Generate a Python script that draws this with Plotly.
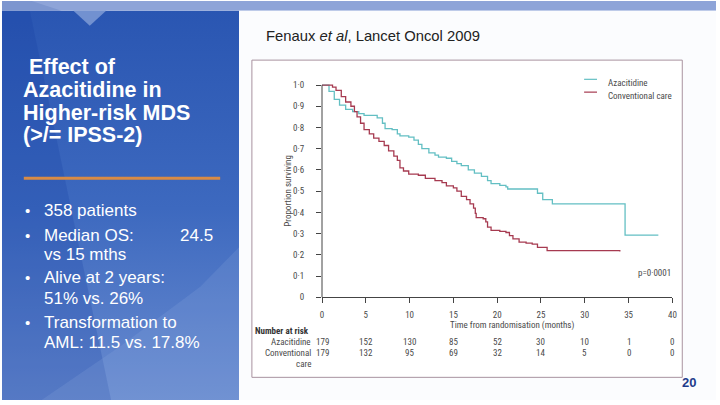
import plotly.graph_objects as go

W, H = 720, 405

# ---------------- data ----------------
aza_t = [0, 0.8, 1.4, 2.0, 2.7, 3.5, 4.2, 4.8, 6.3, 6.9, 7.2, 8.0, 8.6, 8.9, 9.9, 10.5, 11.0, 11.4,
         12.2, 12.9, 13.3, 14.2, 14.8, 15.4, 15.9, 16.7, 17.4, 18.2, 18.9, 19.3, 20.3, 21.0, 21.2,
         24.2, 24.6, 25.2, 26.3, 34.6, 38.4]
aza_s = [1.0, 0.97, 0.932, 0.905, 0.885, 0.875, 0.865, 0.857, 0.845, 0.82, 0.795, 0.79, 0.77, 0.76,
         0.755, 0.74, 0.72, 0.70, 0.68, 0.67, 0.66, 0.655, 0.64, 0.63, 0.62, 0.60, 0.585, 0.57, 0.55,
         0.535, 0.527, 0.52, 0.51, 0.51, 0.49, 0.46, 0.44, 0.293, 0.293]

conv_t = [0, 0.6, 1.2, 1.6, 2.2, 2.7, 3.3, 3.7, 4.0, 4.4, 4.8, 5.4, 5.9, 6.5, 7.1, 7.6, 8.2, 8.6, 8.9,
          9.3, 9.9, 11.0, 11.8, 12.9, 13.7, 14.2, 15.0, 15.4, 15.9, 16.5, 16.9, 17.3, 17.5, 17.6, 18.4,
          18.7, 18.9, 19.3, 20.3, 21.0, 21.4, 21.8, 22.5, 23.3, 24.0, 24.6, 25.7, 34.0]
conv_s = [1.0, 1.0, 0.99, 0.975, 0.945, 0.92, 0.90, 0.875, 0.85, 0.82, 0.79, 0.77, 0.75, 0.735, 0.715,
          0.69, 0.665, 0.645, 0.61, 0.595, 0.58, 0.575, 0.56, 0.55, 0.54, 0.525, 0.515, 0.50, 0.475,
          0.46, 0.44, 0.42, 0.395, 0.375, 0.37, 0.355, 0.33, 0.315, 0.31, 0.305, 0.29, 0.275, 0.26,
          0.255, 0.25, 0.235, 0.22, 0.215]

x_ticks = [0, 5, 10, 15, 20, 25, 30, 35, 40]
y_ticks = [0, 0.1, 0.2, 0.3, 0.4, 0.5, 0.6, 0.7, 0.8, 0.9, 1.0]
y_tick_labels = ["0", "0·1", "0·2", "0·3", "0·4", "0·5", "0·6", "0·7", "0·8", "0·9", "1·0"]
risk_aza = [179, 152, 130, 85, 52, 30, 10, 1, 0]
risk_conv = [179, 132, 95, 69, 32, 14, 5, 0, 0]

title_lines = [" Effect of", "Azacitidine in", "Higher-risk MDS", "(>/= IPSS-2)"]
bullet_lines = [("•", "358 patients"), ("•", "Median OS:"), ("", "vs 15 mths"),
                ("•", "Alive at 2 years:"), ("", "51% vs. 26%"),
                ("•", "Transformation to"), ("", "AML: 11.5 vs. 17.8%")]

# ---------------- styles ----------------
TEAL = "#63BFC3"
RED = "#A63A50"
CF = "Liberation Sans Narrow, Roboto Condensed, Roboto, sans-serif"
SF = "Liberation Sans, Arial, sans-serif"
TXT = "#4a4a4a"
FS = 9
DY = 3.5   # small-text vertical correction


def px(x):
    return x / W


def py(y):
    return 1 - y / H


fig = go.Figure()


def poly(xs, ys, color, line=None, grad=None):
    kw = dict(x=xs, y=ys, mode="lines", fill="toself", hoverinfo="skip", showlegend=False,
              xaxis="x", yaxis="y")
    if grad:
        kw["fillgradient"] = grad
    else:
        kw["fillcolor"] = color
    if line:
        kw["line"] = dict(color=line[0], width=line[1])
    else:
        kw["line"] = dict(width=0, color=color)
    fig.add_trace(go.Scatter(**kw))


# ---------------- slide background (subplot x/y in pixel units) ----------------
poly([0, 720, 720, 0], [0, 0, 405, 405], "#ffffff")
poly([0, 239, 239, 0], [10, 10, 405, 405], None,
     grad=dict(type="vertical", start=10, stop=405,
               colorscale=[[0, "#2A56B2"], [0.5, "#3D69BF"], [1, "#6A8CD0"]]))
# darker diagonal band top-left
poly([0, 28, 110, 0], [10, 10, 405, 405], "rgba(20,60,160,0.22)")
# lighter swoosh lower area
poly([239, 239, 150, 60, 40, 120, 200], [250, 405, 405, 405, 405, 350, 290], "rgba(150,180,230,0.18)")
# top strip
poly([0, 720, 720, 0], [0, 0, 10, 10], "#8EA4D8")
poly([0, 30, 60, 0], [0, 0, 10, 10], "#7D96CF")
# triangle notch
poly([72, 105, 88.5], [10, 10, 25], "#7291D0")
# white content panel
poly([239, 720, 720, 239], [10, 10, 405, 405], "#FBFCFE")
# chart frame
poly([252, 686, 686, 252, 252], [60, 60, 382, 382, 60], "#ffffff", line=("#A8929F", 1))
# orange rule
fig.add_trace(go.Scatter(x=[22, 220], y=[180, 180], mode="lines", hoverinfo="skip",
                         showlegend=False, line=dict(color="#D98B45", width=3),
                         xaxis="x", yaxis="y"))

# ---------------- KM chart (subplot x2/y2) ----------------
fig.add_trace(go.Scatter(x=aza_t, y=aza_s, mode="lines", line_shape="hv", name="Azacitidine",
                         line=dict(color=TEAL, width=1.3), xaxis="x2", yaxis="y2",
                         showlegend=False, hoverinfo="skip"))
fig.add_trace(go.Scatter(x=conv_t, y=conv_s, mode="lines", line_shape="hv",
                         name="Conventional care", line=dict(color=RED, width=1.3),
                         xaxis="x2", yaxis="y2", showlegend=False, hoverinfo="skip"))

X0, X1 = 322.7, 676.0
Y0, Y1 = 300.7, 81.0   # y=0 and y=1.02

fig.update_layout(
    width=W, height=H, margin=dict(l=0, r=0, t=0, b=0),
    paper_bgcolor="white", plot_bgcolor="rgba(0,0,0,0)",
    xaxis=dict(domain=[0, 1], range=[0, 720], visible=False, fixedrange=True),
    yaxis=dict(domain=[0, 1], range=[405, 0], visible=False, fixedrange=True),
    xaxis2=dict(domain=[px(X0), px(X1)], range=[0, 40], anchor="y2",
                tickvals=x_ticks, ticktext=[str(v) for v in x_ticks],
                ticks="outside", ticklen=5, tickcolor="#444", tickwidth=1,
                showline=True, linecolor="#444", linewidth=1, showgrid=False, zeroline=False,
                tickfont=dict(family=CF, size=FS, color=TXT), ticklabelstandoff=4),
    yaxis2=dict(domain=[py(Y0), py(Y1)], range=[0, 1.02], anchor="x2",
                tickvals=y_ticks, ticktext=y_tick_labels,
                ticks="outside", ticklen=5, tickcolor="#444", tickwidth=1,
                showline=False, showgrid=False, zeroline=False,
                tickfont=dict(family=CF, size=FS, color=TXT), ticklabelstandoff=10),
    showlegend=False,
)

# y-axis line from 0 to 1.0
fig.add_shape(type="line", xref="paper", yref="paper", x0=px(X0), x1=px(X0),
              y0=py(Y0), y1=py(Y0 - (Y0 - Y1) / 1.02), line=dict(color="#444", width=1))

ann = []


def A(x, y, text, size, color, family, xanchor="left", bold=False, **kw):
    if bold:
        text = "<b>" + text + "</b>"
    ann.append(dict(x=x, y=y, xref=kw.pop("xref", "paper"), yref="paper", text=text,
                    showarrow=False, xanchor=xanchor, yanchor="middle",
                    font=dict(size=size, color=color, family=family), **kw))


# legend
fig.add_shape(type="line", xref="paper", yref="paper", x0=px(587), x1=px(600), y0=py(79.5),
              y1=py(79.5), line=dict(color=TEAL, width=1.2))
fig.add_shape(type="line", xref="paper", yref="paper", x0=px(587), x1=px(600), y0=py(92.5),
              y1=py(92.5), line=dict(color=RED, width=1.2))
A(px(609), py(79.5 + DY), "Azacitidine", FS, TXT, CF)
A(px(609), py(92.5 + DY), "Conventional care", FS, TXT, CF)

# y title, x title, p-value
A(px(289), py(193), "Proportion surviving", FS, TXT, CF, xanchor="center", textangle=-90)
A(px(514), py(326 + DY), "Time from randomisation (months)", FS, TXT, CF, xanchor="center")
A(px(677), py(273 + DY), "p=0·0001", FS, TXT, CF, xanchor="right")

# number at risk table
A(px(253), py(331.5 + DY), "Number at risk", FS, "#333", CF, bold=True)
A(px(314), py(342.7 + DY), "Azacitidine", FS, TXT, CF, xanchor="right")
A(px(314), py(354 + DY), "Conventional", FS, TXT, CF, xanchor="right")
A(px(314), py(365 + DY), "care", FS, TXT, CF, xanchor="right")
for xv, a, c in zip(x_ticks, risk_aza, risk_conv):
    A(xv, py(342.7 + DY), str(a), FS, TXT, CF, xanchor="center", xref="x2")
    A(xv, py(354 + DY), str(c), FS, TXT, CF, xanchor="center", xref="x2")

# citation & page number
A(px(264), py(36), "Fenaux <i>et al</i>, Lancet Oncol 2009", 14.8, "#222", SF)
A(px(693), py(387), "20", 13, "#1F3C8C", SF, xanchor="center", bold=True)

# left panel title
title_y = [67.5, 90.5, 113.5, 136.5]
for t, yy in zip(title_lines, title_y):
    A(px(19), py(yy), t.replace(" ", "&nbsp;", 1) if t.startswith(" ") else t, 21.5,
      "white", SF, bold=True)

bullet_y = [213, 238, 257.5, 281, 301.5, 326.5, 346.5]
for (b, t), yy in zip(bullet_lines, bullet_y):
    if b:
        A(px(26), py(yy), b, 15, "white", SF, xanchor="center")
    A(px(40), py(yy), t, 17, "white", SF)
A(px(177), py(238), "24.5", 17, "white", SF)

fig.update_layout(annotations=ann)
fig.write_html("out.html", config={"displayModeBar": False},
               post_script="document.body.style.margin='0';document.body.style.padding='0';"
                           "document.body.style.overflow='hidden';")
